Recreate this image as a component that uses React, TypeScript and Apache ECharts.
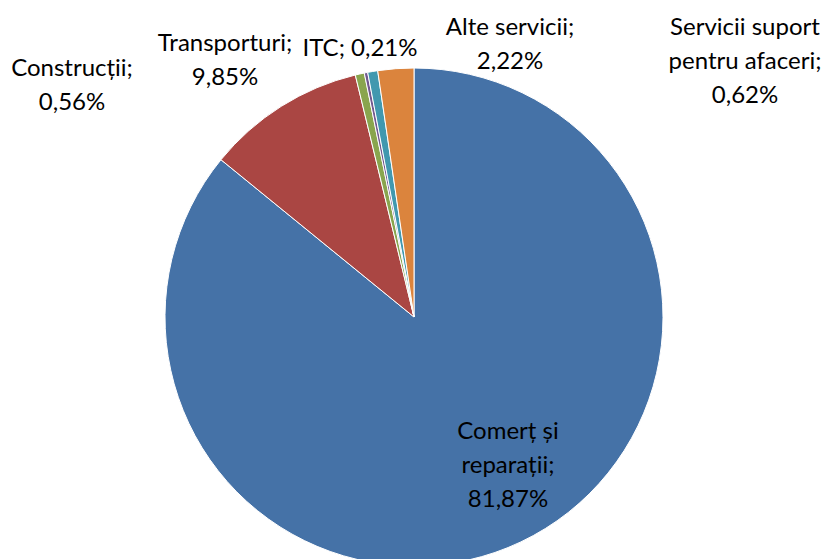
import React, { useEffect, useRef } from "react";
import * as echarts from "echarts";

const categories = [
  "Comerț și\nreparații",
  "Transporturi",
  "Construcții",
  "ITC",
  "Servicii suport\npentru afaceri",
  "Alte servicii",
];
const values = [81.87, 9.85, 0.56, 0.21, 0.62, 2.22];
const colors = ["#4572A7", "#AA4643", "#89A54E", "#71588F", "#4198AF", "#DB843D"];
const labelSeparators = [";\n", ";\n", ";\n", "; ", ";\n", ";\n"];
const labelPositions = [
  [508, 463],
  [225, 58],
  [72, 83],
  [360, 46],
  [745, 59],
  [510, 42],
];

export default function App() {
  const ref = useRef<HTMLDivElement>(null);
  useEffect(() => {
    document.body.style.margin = "0";
    const chart = echarts.init(ref.current!, null, { renderer: "svg" });
    chart.setOption({
      animation: false,
      backgroundColor: "#ffffff",
      series: [
        {
          type: "pie",
          center: [414, 317],
          radius: 249,
          startAngle: 90,
          clockwise: true,
          avoidLabelOverlap: false,
          itemStyle: { borderColor: "#ffffff", borderWidth: 1 },
          label: {
            show: true,
            position: "outside",
            color: "#000000",
            fontFamily: "Lato",
            fontSize: 24,
            lineHeight: 34,
            align: "center",
            formatter: (p: any) =>
              p.name + labelSeparators[p.dataIndex] + String(p.value.toFixed(2)).replace(".", ",") + "%",
          },
          labelLine: { show: false },
          labelLayout: (p: any) => ({
            x: labelPositions[p.dataIndex][0],
            y: labelPositions[p.dataIndex][1],
            align: "center",
            verticalAlign: "middle",
          }),
          data: categories.map((c, i) => ({
            name: c,
            value: values[i],
            itemStyle: { color: colors[i] },
          })),
        },
      ],
    });
    return () => chart.dispose();
  }, []);
  return <div ref={ref} style={{ width: 823, height: 559 }} />;
}
